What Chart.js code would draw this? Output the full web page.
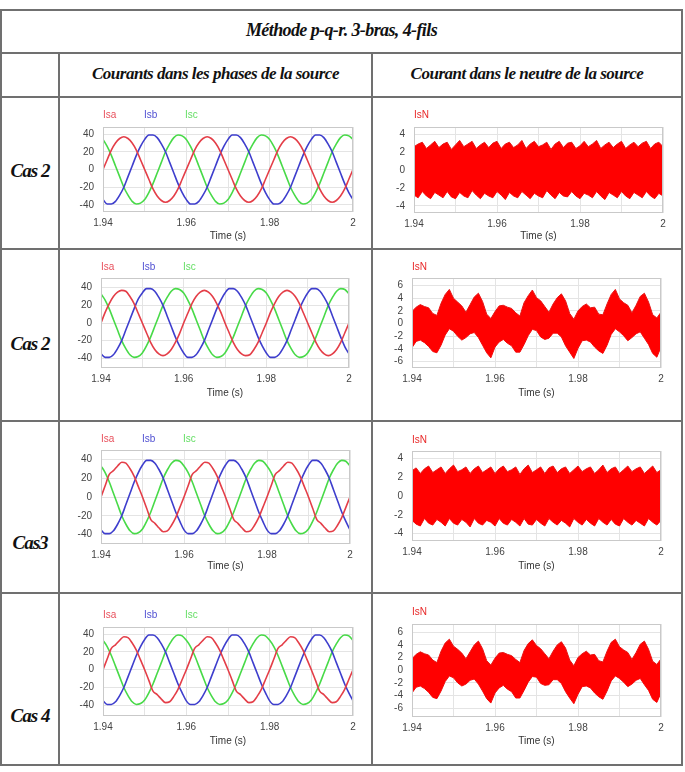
<!DOCTYPE html>
<html lang="fr">
<head>
<meta charset="UTF-8">
<title>Méthode p-q-r. 3-bras, 4-fils</title>
<script src="https://cdn.jsdelivr.net/npm/chart.js"></script>
<style>
  body { margin: 0; background: #fff; }
  #page { position: relative; width: 685px; height: 772px; overflow: hidden; font-family: "Liberation Serif", serif; }
  .hl, .vl { position: absolute; background: #707070; }
  .txt { position: absolute; font-style: italic; font-weight: bold; color: #111; white-space: nowrap; text-align: center; }
  .head { font-size: 17px; letter-spacing: -0.5px; }
  .cas { font-size: 19px; letter-spacing: -1px; }
  canvas { position: absolute; }
</style>
</head>
<body>
<div id="page">
  <!-- table lines -->
  <div class="hl" style="left:0;top:9px;width:683px;height:2px"></div>
  <div class="hl" style="left:0;top:52px;width:683px;height:2px"></div>
  <div class="hl" style="left:0;top:96px;width:683px;height:2px"></div>
  <div class="hl" style="left:0;top:248px;width:683px;height:2px"></div>
  <div class="hl" style="left:0;top:420px;width:683px;height:2px"></div>
  <div class="hl" style="left:0;top:592px;width:683px;height:2px"></div>
  <div class="hl" style="left:0;top:764px;width:683px;height:2px"></div>
  <div class="vl" style="left:0;top:9px;width:2px;height:757px"></div>
  <div class="vl" style="left:681px;top:9px;width:2px;height:757px"></div>
  <div class="vl" style="left:58px;top:52px;width:2px;height:714px"></div>
  <div class="vl" style="left:371px;top:52px;width:2px;height:714px"></div>

  <div class="txt head" style="left:0;width:683px;top:20px;font-size:18px;letter-spacing:-0.6px">Méthode p-q-r. 3-bras, 4-fils</div>
  <div class="txt head" style="left:60px;width:311px;top:64px">Courants dans les phases de la source</div>
  <div class="txt head" style="left:373px;width:308px;top:64px">Courant dans le neutre de la source</div>

  <div class="txt cas" style="left:0;width:60px;top:160px">Cas 2</div>
  <div class="txt cas" style="left:0;width:60px;top:333px">Cas 2</div>
  <div class="txt cas" style="left:0;width:60px;top:532px">Cas3</div>
  <div class="txt cas" style="left:0;width:60px;top:705px">Cas 4</div>

  <canvas id="c1a" width="306" height="147" style="left:62px;top:99px"></canvas>
  <canvas id="c1b" width="305" height="147" style="left:375px;top:99px"></canvas>
  <canvas id="c2a" width="306" height="166" style="left:62px;top:251px"></canvas>
  <canvas id="c2b" width="305" height="166" style="left:375px;top:251px"></canvas>
  <canvas id="c3a" width="306" height="166" style="left:62px;top:423px"></canvas>
  <canvas id="c3b" width="305" height="166" style="left:375px;top:423px"></canvas>
  <canvas id="c4a" width="306" height="168" style="left:62px;top:595px"></canvas>
  <canvas id="c4b" width="305" height="168" style="left:375px;top:595px"></canvas>
</div>

<script>
// temps (s), un point par milliseconde
const time = [
  1.940, 1.941, 1.942, 1.943, 1.944, 1.945, 1.946, 1.947, 1.948, 1.949,
  1.950, 1.951, 1.952, 1.953, 1.954, 1.955, 1.956, 1.957, 1.958, 1.959,
  1.960, 1.961, 1.962, 1.963, 1.964, 1.965, 1.966, 1.967, 1.968, 1.969,
  1.970, 1.971, 1.972, 1.973, 1.974, 1.975, 1.976, 1.977, 1.978, 1.979,
  1.980, 1.981, 1.982, 1.983, 1.984, 1.985, 1.986, 1.987, 1.988, 1.989,
  1.990, 1.991, 1.992, 1.993, 1.994, 1.995, 1.996, 1.997, 1.998, 1.999,
  2.000
];

const xGrid = [1.94, 1.95, 1.96, 1.97, 1.98, 1.99, 2];
const xLabels = ['1.94', '', '1.96', '', '1.98', '', '2'];
const yPhaseTicks = [-40, -20, 0, 20, 40];
const yNeutreTicks4 = [-4, -2, 0, 2, 4];
const yNeutreTicks6 = [-6, -4, -2, 0, 2, 4, 6];

// Cas 2 (ligne 1) - courants de phase
const cas2a_isa = [
  0, 11, 22, 30, 35, 37, 35, 30, 22, 11,
  0, -11, -22, -30, -35, -37, -35, -30, -22, -11,
  0, 11, 22, 30, 35, 37, 35, 30, 22, 11,
  0, -11, -22, -30, -35, -37, -35, -30, -22, -11,
  0, 11, 22, 30, 35, 37, 35, 30, 22, 11,
  0, -11, -22, -30, -35, -37, -35, -30, -22, -11,
  0
];
const cas2a_isb = [
  -34, -39, -39, -36, -29, -20, -8, 4, 16, 26,
  34, 39, 39, 36, 29, 20, 8, -4, -16, -26,
  -34, -39, -39, -36, -29, -20, -8, 4, 16, 26,
  34, 39, 39, 36, 29, 20, 8, -4, -16, -26,
  -34, -39, -39, -36, -29, -20, -8, 4, 16, 26,
  34, 39, 39, 36, 29, 20, 8, -4, -16, -26,
  -34
];
const cas2a_isc = [
  34, 26, 16, 4, -8, -20, -29, -36, -39, -38,
  -34, -26, -16, -4, 8, 20, 29, 36, 39, 38,
  34, 26, 16, 4, -8, -20, -29, -36, -39, -38,
  -34, -26, -16, -4, 8, 20, 29, 36, 39, 38,
  34, 26, 16, 4, -8, -20, -29, -36, -39, -38,
  -34, -26, -16, -4, 8, 20, 29, 36, 39, 38,
  34
];
// Cas 2 (ligne 1) - neutre, enveloppes haute / basse de la bande
const cas2a_isnHigh = [
  2.6, 2.9, 3.1, 2.4, 2.8, 3.2, 2.5, 2.9, 3.1, 2.3,
  2.8, 3.3, 2.6, 2.9, 3.2, 2.4, 2.8, 3.1, 2.5, 3.0,
  3.2, 2.4, 2.9, 3.1, 2.5, 2.8, 3.3, 2.4, 2.9, 3.2,
  2.6, 2.8, 3.1, 2.3, 2.9, 3.2, 2.5, 3.0, 3.1, 2.4,
  2.7, 3.2, 2.6, 2.9, 3.3, 2.4, 2.8, 3.1, 2.5, 2.9,
  3.2, 2.4, 2.8, 3.1, 2.6, 3.0, 3.2, 2.4, 2.9, 3.1,
  2.6
];
const cas2a_isnLow = [
  -2.8, -3.1, -2.4, -2.9, -3.2, -2.5, -2.8, -3.1, -2.4, -3.0,
  -3.2, -2.5, -2.9, -3.1, -2.3, -2.8, -3.2, -2.6, -2.9, -3.1,
  -2.4, -2.8, -3.3, -2.5, -2.9, -3.1, -2.4, -2.8, -3.2, -2.6,
  -2.9, -3.1, -2.3, -2.8, -3.2, -2.5, -2.9, -3.0, -2.4, -2.9,
  -3.2, -2.6, -2.8, -3.1, -2.4, -2.9, -3.3, -2.5, -2.8, -3.1,
  -2.4, -2.9, -3.2, -2.5, -2.8, -3.1, -2.4, -2.9, -3.2, -2.6,
  -2.9
];

// Cas 2 (ligne 2)
const cas2b_isa = [
  0, 12, 22, 30, 35, 37, 36, 30, 22, 11,
  0, -11, -22, -30, -35, -37, -35, -30, -22, -12,
  0, 11, 22, 30, 35, 37, 35, 30, 22, 12,
  0, -11, -22, -30, -35, -37, -36, -30, -22, -11,
  0, 12, 22, 30, 35, 37, 35, 30, 22, 11,
  0, -11, -22, -30, -35, -37, -35, -30, -22, -11,
  0
];
const cas2b_isb = [
  -35, -39, -39, -36, -29, -20, -8, 4, 16, 27,
  34, 39, 39, 36, 29, 20, 8, -4, -16, -26,
  -34, -39, -39, -36, -29, -20, -8, 4, 16, 26,
  34, 39, 39, 36, 29, 20, 8, -4, -16, -26,
  -34, -39, -39, -36, -29, -20, -8, 4, 16, 26,
  34, 39, 39, 36, 29, 20, 8, -4, -16, -27,
  -35
];
const cas2b_isc = [
  33, 26, 16, 4, -8, -20, -29, -36, -39, -38,
  -34, -26, -16, -4, 8, 20, 29, 36, 39, 38,
  34, 26, 16, 4, -8, -20, -29, -36, -39, -38,
  -34, -26, -16, -4, 8, 20, 29, 36, 39, 38,
  34, 26, 16, 4, -8, -20, -29, -36, -39, -38,
  -34, -26, -16, -4, 8, 20, 29, 36, 39, 38,
  33
];
const cas2b_isnHigh = [
  1.9, 2.6, 3.0, 2.7, 2.5, 1.6, 1.3, 3.2, 4.6, 5.4,
  4.0, 3.4, 2.8, 1.8, 3.0, 4.2, 4.8, 3.5, 1.5, 0.8,
  1.9, 2.8, 2.9, 2.6, 2.4, 1.7, 1.2, 3.3, 4.4, 5.3,
  4.1, 3.6, 2.7, 1.8, 3.1, 4.1, 4.7, 3.6, 1.6, 0.7,
  2.0, 2.7, 3.1, 2.5, 2.6, 1.5, 1.4, 3.1, 4.6, 5.4,
  3.9, 3.3, 2.9, 1.7, 2.9, 4.3, 4.8, 3.4, 1.4, 0.9,
  1.8
];
const cas2b_isnLow = [
  -3.8, -2.8, -2.6, -3.0, -3.6, -4.4, -4.6, -3.4, -1.8, -0.8,
  -1.2, -2.0, -2.6, -2.2, -1.6, -1.4, -2.2, -3.4, -4.6, -5.4,
  -3.7, -2.9, -2.5, -3.1, -3.5, -4.5, -4.5, -3.3, -1.9, -0.9,
  -1.1, -2.1, -2.5, -2.3, -1.5, -1.5, -2.1, -3.5, -4.5, -5.5,
  -3.9, -2.7, -2.6, -2.9, -3.7, -4.3, -4.7, -3.4, -1.7, -0.8,
  -1.3, -1.9, -2.7, -2.2, -1.6, -1.3, -2.3, -3.3, -4.7, -5.3,
  -3.7
];

// Cas 3
const cas3_isa = [
  0, 12, 24, 28, 33, 37, 36, 30, 22, 11,
  0, -12, -24, -28, -33, -37, -36, -30, -22, -11,
  0, 12, 24, 28, 33, 37, 36, 30, 22, 11,
  0, -12, -24, -28, -33, -37, -36, -30, -22, -11,
  0, 12, 24, 28, 33, 37, 36, 30, 22, 11,
  0, -12, -24, -28, -33, -37, -36, -30, -22, -11,
  0
];
const cas3_isb = [
  -35, -39, -39, -36, -29, -20, -8, 4, 16, 26,
  34, 39, 39, 36, 29, 20, 8, -4, -16, -26,
  -35, -39, -39, -36, -29, -20, -8, 4, 16, 26,
  34, 39, 39, 36, 29, 20, 8, -4, -16, -26,
  -35, -39, -39, -36, -29, -20, -8, 4, 16, 26,
  34, 39, 39, 36, 29, 20, 8, -4, -16, -26,
  -35
];
const cas3_isc = [
  33, 26, 16, 4, -8, -20, -29, -36, -39, -38,
  -34, -26, -16, -4, 8, 20, 29, 36, 39, 38,
  33, 26, 16, 4, -8, -20, -29, -36, -39, -38,
  -34, -26, -16, -4, 8, 20, 29, 36, 39, 38,
  33, 26, 16, 4, -8, -20, -29, -36, -39, -38,
  -34, -26, -16, -4, 8, 20, 29, 36, 39, 38,
  33
];
const cas3_isnHigh = [
  2.7, 3.0, 2.4, 2.9, 3.2, 2.5, 2.8, 3.1, 2.4, 2.9,
  3.3, 2.6, 2.8, 3.1, 2.4, 2.9, 3.2, 2.5, 2.8, 3.1,
  2.4, 2.9, 3.2, 2.6, 2.8, 3.1, 2.3, 2.9, 3.3, 2.5,
  2.8, 3.1, 2.4, 3.0, 3.2, 2.5, 2.9, 3.1, 2.4, 2.8,
  3.2, 2.6, 2.9, 3.1, 2.4, 2.8, 3.3, 2.5, 2.9, 3.1,
  2.4, 2.8, 3.2, 2.6, 2.9, 3.1, 2.4, 2.8, 3.2, 2.5,
  2.8
];
const cas3_isnLow = [
  -2.6, -3.0, -3.2, -2.4, -2.9, -3.1, -2.5, -2.8, -3.2, -2.4,
  -2.9, -3.1, -2.5, -2.8, -3.3, -2.4, -2.9, -3.1, -2.6, -2.8,
  -3.2, -2.4, -2.9, -3.1, -2.5, -2.8, -3.2, -2.4, -3.0, -3.1,
  -2.5, -2.9, -3.2, -2.4, -2.8, -3.1, -2.6, -2.9, -3.3, -2.4,
  -2.8, -3.1, -2.5, -2.9, -3.2, -2.4, -2.8, -3.1, -2.5, -3.0,
  -3.2, -2.4, -2.8, -3.1, -2.6, -2.9, -3.2, -2.4, -2.8, -3.1,
  -2.6
];

// Cas 4
const cas4_isa = [
  0, 12, 24, 28, 33, 37, 36, 30, 22, 11,
  0, -12, -24, -28, -33, -37, -36, -30, -22, -11,
  0, 12, 24, 28, 33, 37, 36, 30, 22, 11,
  0, -12, -24, -28, -33, -37, -36, -30, -22, -11,
  0, 12, 24, 28, 33, 37, 36, 30, 22, 11,
  0, -12, -24, -28, -33, -37, -36, -30, -22, -11,
  0
];
const cas4_isb = [
  -35, -39, -39, -36, -29, -20, -8, 4, 16, 26,
  34, 39, 39, 36, 29, 20, 8, -4, -16, -26,
  -35, -39, -39, -36, -29, -20, -8, 4, 16, 26,
  34, 39, 39, 36, 29, 20, 8, -4, -16, -26,
  -35, -39, -39, -36, -29, -20, -8, 4, 16, 26,
  34, 39, 39, 36, 29, 20, 8, -4, -16, -26,
  -35
];
const cas4_isc = [
  33, 26, 16, 4, -8, -20, -29, -36, -39, -38,
  -34, -26, -16, -4, 8, 20, 29, 36, 39, 38,
  33, 26, 16, 4, -8, -20, -29, -36, -39, -38,
  -34, -26, -16, -4, 8, 20, 29, 36, 39, 38,
  33, 26, 16, 4, -8, -20, -29, -36, -39, -38,
  -34, -26, -16, -4, 8, 20, 29, 36, 39, 38,
  33
];
const cas4_isnHigh = [
  1.8, 2.5, 2.9, 2.6, 2.4, 1.6, 1.2, 3.0, 4.3, 4.9,
  3.8, 3.3, 2.7, 1.8, 2.9, 4.0, 4.6, 3.4, 1.5, 0.8,
  1.9, 2.7, 2.8, 2.5, 2.3, 1.7, 1.2, 3.1, 4.2, 4.8,
  3.9, 3.4, 2.6, 1.8, 3.0, 4.0, 4.5, 3.5, 1.6, 0.7,
  2.0, 2.6, 3.0, 2.4, 2.5, 1.5, 1.3, 3.0, 4.4, 4.9,
  3.7, 3.2, 2.8, 1.7, 2.8, 4.1, 4.6, 3.3, 1.4, 0.9,
  1.8
];
const cas4_isnLow = [
  -3.6, -2.7, -2.5, -2.9, -3.5, -4.3, -4.5, -3.3, -1.8, -0.9,
  -1.2, -2.0, -2.5, -2.2, -1.6, -1.4, -2.2, -3.3, -4.5, -5.2,
  -3.6, -2.8, -2.4, -3.0, -3.4, -4.4, -4.4, -3.2, -1.9, -1.0,
  -1.1, -2.1, -2.4, -2.3, -1.5, -1.5, -2.1, -3.4, -4.4, -5.3,
  -3.8, -2.6, -2.5, -2.8, -3.6, -4.2, -4.6, -3.3, -1.7, -0.9,
  -1.3, -1.9, -2.6, -2.2, -1.6, -1.3, -2.3, -3.2, -4.6, -5.1,
  -3.6
];

const RED = 'rgb(228,62,72)', BLUE = 'rgb(62,62,205)', GREEN = 'rgb(72,218,72)';
const NEUTRE = 'rgb(255,0,0)';

const pts = vals => time.map((t, i) => ({ x: t, y: vals[i] }));

// cadre gris autour de la zone de tracé
const frame = {
  id: 'frame',
  afterDraw(chart) {
    const a = chart.chartArea, ctx = chart.ctx;
    ctx.save();
    ctx.strokeStyle = '#c9c9c9';
    ctx.lineWidth = 1;
    ctx.strokeRect(a.left + 0.5, a.top + 0.5, a.right - a.left - 1, a.bottom - a.top - 1);
    ctx.restore();
  }
};

// noms des courbes au-dessus du tracé
const seriesNames = {
  id: 'seriesNames',
  afterDraw(chart, args, opts) {
    const a = chart.chartArea, ctx = chart.ctx;
    ctx.save();
    ctx.font = '10px "Liberation Sans", Arial, sans-serif';
    ctx.textBaseline = 'middle';
    chart.data.datasets.forEach((ds, i) => {
      if (!ds.label) return;
      ctx.fillStyle = ds.nameColor;
      ctx.fillText(ds.label, a.left + opts.dx + i * 41, a.top - opts.gap);
    });
    ctx.restore();
  }
};

function drawChart(id, c) {
  const cv = document.getElementById(id);
  const w = cv.width, h = cv.height, a = c.area;
  const tickFont = { family: '"Liberation Sans", Arial, sans-serif', size: 10 };
  return new Chart(cv, {
    type: 'line',
    data: { datasets: c.datasets },
    plugins: [frame, seriesNames],
    options: {
      responsive: false,
      animation: false,
      devicePixelRatio: 1,
      layout: { padding: { top: a.t, right: w - a.r, left: 0, bottom: 0 } },
      elements: { point: { radius: 0 } },
      plugins: {
        legend: { display: false },
        tooltip: { enabled: false },
        seriesNames: { gap: c.gap, dx: c.dx || 0 }
      },
      scales: {
        x: {
          type: 'linear', min: 1.94, max: 2,
          afterFit: s => { s.height = h - a.b; },
          afterBuildTicks: s => { s.ticks = xGrid.map(v => ({ value: v })); },
          grid: { color: '#e4e4e4', drawTicks: false },
          border: { display: false },
          ticks: { font: tickFont, color: '#444', padding: 5, maxRotation: 0, autoSkip: false,
                   callback: (v, i) => xLabels[i] },
          title: { display: true, text: 'Time (s)', font: tickFont, color: '#333',
                   padding: { top: 0, bottom: c.titlePad } }
        },
        y: {
          min: c.ymin, max: c.ymax,
          afterFit: s => { s.width = a.l; },
          afterBuildTicks: s => { s.ticks = c.yTicks.map(v => ({ value: v })); },
          grid: { color: '#e4e4e4', drawTicks: false },
          border: { display: false },
          ticks: { font: tickFont, color: '#444', padding: 9, callback: v => String(v) }
        }
      }
    }
  });
}

function phaseSets(isa, isb, isc) {
  const base = { borderWidth: 1.6, cubicInterpolationMode: 'monotone', fill: false };
  return [
    Object.assign({ label: 'Isa', data: pts(isa), borderColor: RED, nameColor: 'rgb(232,80,92)' }, base),
    Object.assign({ label: 'Isb', data: pts(isb), borderColor: BLUE, nameColor: 'rgb(80,80,210)' }, base),
    Object.assign({ label: 'Isc', data: pts(isc), borderColor: GREEN, nameColor: 'rgb(100,222,100)' }, base)
  ];
}

function neutreSets(high, low) {
  return [
    { label: 'IsN', data: pts(high), borderColor: 'rgb(230,20,20)', borderWidth: 1,
      backgroundColor: NEUTRE, fill: '+1', nameColor: 'rgb(232,40,40)' },
    { label: '', data: pts(low), borderColor: 'rgb(230,20,20)', borderWidth: 1, fill: false }
  ];
}

drawChart('c1a', { area: { l: 41, r: 291, t: 28, b: 113 }, ymin: -48, ymax: 48, yTicks: yPhaseTicks,
  gap: 12, dx: 0, titlePad: 4, datasets: phaseSets(cas2a_isa, cas2a_isb, cas2a_isc) });
drawChart('c1b', { area: { l: 39, r: 288, t: 28, b: 114 }, ymin: -4.8, ymax: 4.8, yTicks: yNeutreTicks4,
  gap: 12, dx: 0, titlePad: 4, datasets: neutreSets(cas2a_isnHigh, cas2a_isnLow) });

drawChart('c2a', { area: { l: 39, r: 287, t: 27, b: 117 }, ymin: -51, ymax: 51, yTicks: yPhaseTicks,
  gap: 11, dx: 0, titlePad: 18, datasets: phaseSets(cas2b_isa, cas2b_isb, cas2b_isc) });
drawChart('c2b', { area: { l: 37, r: 286, t: 27, b: 117 }, ymin: -7, ymax: 7.2, yTicks: yNeutreTicks6,
  gap: 11, dx: 0, titlePad: 18, datasets: neutreSets(cas2b_isnHigh, cas2b_isnLow) });

drawChart('c3a', { area: { l: 39, r: 288, t: 27, b: 121 }, ymin: -50, ymax: 50, yTicks: yPhaseTicks,
  gap: 11, dx: 0, titlePad: 17, datasets: phaseSets(cas3_isa, cas3_isb, cas3_isc) });
drawChart('c3b', { area: { l: 37, r: 286, t: 28, b: 118 }, ymin: -4.8, ymax: 4.8, yTicks: yNeutreTicks4,
  gap: 11, dx: 0, titlePad: 17, datasets: neutreSets(cas3_isnHigh, cas3_isnLow) });

drawChart('c4a', { area: { l: 41, r: 291, t: 32, b: 121 }, ymin: -52, ymax: 48, yTicks: yPhaseTicks,
  gap: 12, dx: 0, titlePad: 16, datasets: phaseSets(cas4_isa, cas4_isb, cas4_isc) });
drawChart('c4b', { area: { l: 37, r: 286, t: 29, b: 122 }, ymin: -7.4, ymax: 7.3, yTicks: yNeutreTicks6,
  gap: 12, dx: 0, titlePad: 16, datasets: neutreSets(cas4_isnHigh, cas4_isnLow) });
</script>
</body>
</html>
